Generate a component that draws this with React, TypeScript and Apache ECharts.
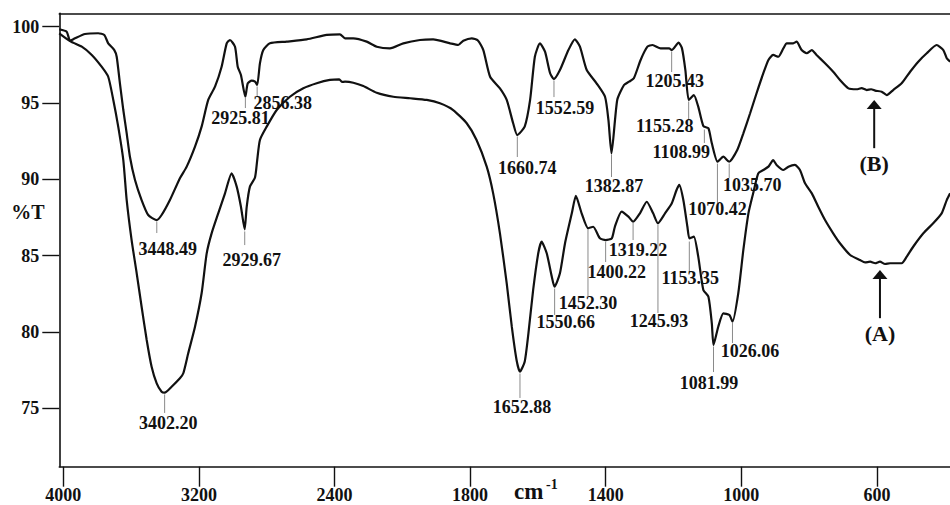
import React, { useEffect, useRef } from "react";
import * as echarts from "echarts";

// ---- axis ticks ----
const xTickWavenumbers = [4000, 3200, 2400, 1800, 1400, 1000, 600];
const yTickValues = [75, 80, 85, 90, 95, 100];

// ---- spectrum (B), upper curve ----
const bWavenumbers = [
  4024, 3980, 3960, 3931, 3872, 3794, 3758, 3735, 3699, 3685, 3666, 3646, 3626, 3607, 3577, 3538, 3499, 3450, 3420, 3371,
  3312, 3272, 3223, 3184, 3145, 3105, 3066, 3036, 3017, 2987, 2971, 2952, 2926, 2912, 2889, 2869, 2856, 2840, 2820, 2781,
  2682, 2564, 2446, 2368, 2338, 2289, 2210, 2151, 2073, 1997, 1948, 1909, 1859, 1835, 1820, 1795, 1777, 1761, 1741, 1712,
  1692, 1673, 1661, 1639, 1623, 1609, 1594, 1579, 1564, 1553, 1535, 1510, 1491, 1476, 1456, 1427, 1402, 1392, 1383, 1366,
  1346, 1331, 1317, 1297, 1277, 1262, 1238, 1213, 1205, 1185, 1175, 1165, 1155, 1140, 1127, 1112, 1097, 1087, 1070, 1053,
  1036, 1012, 994, 974, 955, 935, 920, 906, 891, 876, 866, 847, 837, 822, 807, 792, 778, 753, 729, 709,
  684, 660, 645, 630, 617, 605, 586, 571, 552, 527, 502, 478, 453, 424, 404, 394, 384,
];
const bTransmittance = [
  99.83, 99.67, 99.08, 99.24, 99.52, 99.57, 99.46, 98.91, 98.47, 98.03, 96.29, 94.54, 93.01, 91.48, 89.95, 88.64, 87.66, 87.33, 87.66, 88.64,
  90.07, 90.83, 92.14, 93.45, 95.2, 96.07, 97.38, 98.91, 99.13, 98.69, 97.38, 96.83, 95.41, 96.29, 96.46, 96.4, 96.18, 97.6, 98.47, 98.91,
  99.02, 99.17, 99.46, 99.5, 99.24, 99.24, 99.02, 98.69, 98.58, 98.91, 99.13, 99.17, 98.91, 98.8, 99.08, 99.24, 99.1, 98.47, 96.72, 95.96,
  95.2, 93.67, 92.9, 93.45, 95.2, 98.03, 98.91, 98.36, 96.95, 96.57, 97.16, 98.47, 99.17, 98.69, 97.16, 96.29, 95.41, 93.89, 91.7, 95.2,
  96.18, 96.4, 96.62, 97.82, 98.69, 98.8, 98.58, 98.58, 98.47, 98.95, 98.58, 97.16, 95.2, 95.52, 94.76, 93.49, 93.34, 92.36, 91.15, 91.48,
  91.15, 91.92, 93.01, 94.33, 95.64, 96.95, 97.82, 98.15, 98.03, 98.58, 98.91, 98.91, 99.02, 98.47, 98.26, 98.47, 98.15, 97.6, 97.05, 96.51,
  95.96, 95.9, 95.97, 95.85, 95.9, 95.81, 95.74, 95.52, 95.85, 96.29, 97.05, 97.71, 98.26, 98.8, 98.47, 97.93, 97.71,
];

// ---- spectrum (A), lower curve ----
const aWavenumbers = [
  4024, 3955, 3891, 3832, 3774, 3735, 3705, 3676, 3646, 3626, 3597, 3567, 3538, 3508, 3479, 3449, 3420, 3402, 3361, 3312,
  3292, 3263, 3223, 3184, 3154, 3125, 3086, 3046, 3007, 2977, 2952, 2930, 2918, 2899, 2869, 2856, 2840, 2800, 2741, 2663,
  2584, 2505, 2427, 2372, 2356, 2338, 2289, 2230, 2151, 2053, 1977, 1928, 1889, 1850, 1810, 1781, 1751, 1732, 1712, 1692,
  1677, 1663, 1653, 1639, 1628, 1614, 1599, 1589, 1574, 1559, 1551, 1535, 1520, 1500, 1488, 1471, 1452, 1437, 1417, 1400,
  1382, 1373, 1353, 1333, 1319, 1299, 1279, 1260, 1246, 1225, 1205, 1191, 1183, 1171, 1159, 1153, 1140, 1127, 1112, 1097,
  1087, 1082, 1068, 1053, 1035, 1026, 1009, 994, 979, 965, 950, 935, 920, 906, 896, 876, 861, 842, 827, 812,
  792, 773, 753, 729, 709, 679, 650, 635, 620, 605, 591, 576, 561, 527, 512, 493, 463, 434, 409, 394, 384,
];
const aTransmittance = [
  99.57, 99.02, 98.69, 98.15, 97.38, 96.72, 95.2, 93.45, 91.26, 88.64, 86.02, 83.84, 81.65, 79.47, 77.72, 76.63, 76.08, 76.02, 76.41, 76.96,
  77.29, 78.6, 80.34, 82.53, 85.15, 86.46, 87.77, 89.08, 90.39, 89.52, 88.2, 86.72, 88.2, 89.52, 90.12, 91.26, 92.58, 93.45, 94.54, 95.41,
  95.96, 96.29, 96.51, 96.55, 96.38, 96.4, 96.33, 96.11, 95.67, 95.41, 95.31, 95.2, 94.98, 94.54, 93.67, 92.58, 90.83, 89.08, 86.46, 83.18,
  80.34, 78.16, 77.39, 78.05, 79.91, 82.75, 85.15, 85.91, 85.15, 83.62, 82.96, 83.84, 85.81, 87.77, 88.91, 87.77, 86.79, 86.89, 86.13, 86.02,
  86.13, 86.89, 87.88, 87.55, 87.22, 87.77, 88.53, 87.77, 87.12, 87.77, 88.43, 89.3, 89.63, 88.64, 86.89, 86.13, 86.24, 84.93, 82.75, 82.31,
  80.56, 79.14, 80.34, 81.22, 81.11, 80.67, 82.53, 85.37, 87.77, 89.08, 90.39, 90.61, 90.83, 91.26, 90.94, 90.61, 90.83, 90.94, 90.61, 89.74,
  89.08, 88.2, 87.33, 86.46, 85.81, 85.04, 84.71, 84.55, 84.6, 84.5, 84.6, 84.45, 84.5, 84.5, 84.93, 85.58, 86.46, 87.12, 87.77, 88.64, 89.08,
];

// ---- labelled peaks: wavenumber, %T at the peak, %T where the marker line ends ----
const peaksB = [3448.49, 2925.81, 2856.38, 1660.74, 1552.59, 1382.87, 1205.43, 1155.28, 1108.99, 1070.42, 1035.7];
const peaksBTop = [87.33, 95.49, 96.18, 92.9, 96.57, 91.72, 98.47, 95.2, 93.36, 91.13, 91.13];
const peaksBEnd = [86.48, 94.67, 95.39, 91.46, 95.39, 90.15, 97.03, 93.89, 92.38, 88.45, 90.09];
const peaksA = [3402.2, 2929.67, 1652.88, 1550.66, 1452.3, 1400.22, 1319.22, 1245.93, 1153.35, 1081.99, 1026.06];
const peaksATop = [76.0, 86.68, 77.37, 82.94, 86.81, 86.02, 87.27, 87.14, 86.02, 79.14, 80.71];
const peaksAEnd = [74.69, 85.69, 75.67, 81.11, 82.35, 84.58, 86.02, 81.24, 83.93, 77.37, 79.27];

// ---- arrows marking the two spectra ----
const arrowLabels = ["(B)", "(A)"];
const arrowWavenumbers = [608, 591];
const arrowTip = [95.19, 84.05];
const arrowTail = [92.04, 80.9];

// layout: label offsets (px) from the end of each marker line
const peaksBLabelOffset = [[11, 16], [-5, 10], [25.5, 6], [10, 11], [11, 11], [2.5, 9], [3, 9], [-24, 6], [-23, 9], [0, 6], [23, 7]];
const peaksALabelOffset = [[3.5, 10], [7, 15], [2, 9], [11, 7], [0, 7], [11, 10], [5, 10], [1, 8], [1, 6], [-4.5, 11], [17.5, 8]];

// piecewise wavenumber scale (scale doubles below 2000 cm-1)
const toT = (w: number) => (w >= 2000 ? (4000 - w) / 800 : 2.5 + (2000 - w) / 400);
const fromT = (t: number) => (t <= 2.5 ? 4000 - 800 * t : 2000 - 400 * (t - 2.5));

const FONT = '"Liberation Serif", "Times New Roman", serif';
const INK = "#111";

export default function App() {
  const ref = useRef<HTMLDivElement>(null);
  useEffect(() => {
    if (!ref.current) return;
    const chart = echarts.init(ref.current, undefined, { renderer: "svg" });

    const lineB = bWavenumbers.map((w, i) => [toT(w), bTransmittance[i]]);
    const lineA = aWavenumbers.map((w, i) => [toT(w), aTransmittance[i]]);
    const peakData = [
      ...peaksB.map((w, i) => [toT(w), peaksBTop[i], peaksBEnd[i]]),
      ...peaksA.map((w, i) => [toT(w), peaksATop[i], peaksAEnd[i]]),
    ];
    const peakText = [...peaksB, ...peaksA].map((w) => w.toFixed(2));
    const peakOffsets = [...peaksBLabelOffset, ...peaksALabelOffset];
    const arrowData = arrowWavenumbers.map((w, i) => [toT(w), arrowTip[i], arrowTail[i]]);

    const tMin = -0.0295;
    const tMax = 6.539;
    const yMin = 71.167;
    const yMax = 100.878;

    chart.setOption({
      animation: false,
      grid: { left: 59.3, top: 13.3, right: 0, bottom: 38.3, show: false },
      xAxis: [
        {
          type: "value",
          min: tMin,
          max: tMax,
          position: "bottom",
          axisLine: { show: true, onZero: false, lineStyle: { color: INK, width: 1.6 } },
          axisTick: {
            show: true,
            customValues: xTickWavenumbers.map(toT),
            length: 20,
            lineStyle: { color: INK, width: 1.4 },
          },
          axisLabel: {
            show: true,
            customValues: xTickWavenumbers.map(toT),
            formatter: (v: number) => String(Math.round(fromT(v))),
            margin: 19,
            fontFamily: FONT,
            fontWeight: "bold",
            fontSize: 18,
            color: INK,
          },
          splitLine: { show: false },
        },
        {
          type: "value",
          min: tMin,
          max: tMax,
          position: "top",
          axisLine: { show: true, onZero: false, lineStyle: { color: INK, width: 1.6 } },
          axisTick: { show: false },
          axisLabel: { show: false },
          splitLine: { show: false },
        },
      ],
      yAxis: {
        type: "value",
        min: yMin,
        max: yMax,
        axisLine: { show: true, onZero: false, lineStyle: { color: INK, width: 1.6 } },
        axisTick: {
          show: true,
          customValues: yTickValues,
          length: 17,
          lineStyle: { color: INK, width: 1.4 },
        },
        axisLabel: {
          show: true,
          customValues: yTickValues,
          margin: 20,
          fontFamily: FONT,
          fontWeight: "bold",
          fontSize: 18,
          color: INK,
        },
        splitLine: { show: false },
      },
      series: [
        {
          name: "B",
          type: "line",
          data: lineB,
          showSymbol: false,
          smooth: 0.2,
          lineStyle: { color: INK, width: 2.2 },
          z: 3,
        },
        {
          name: "A",
          type: "line",
          data: lineA,
          showSymbol: false,
          smooth: 0.2,
          lineStyle: { color: INK, width: 2.2 },
          z: 3,
        },
        {
          name: "peaks",
          type: "custom",
          data: peakData,
          encode: { x: 0, y: [1, 2] },
          z: 4,
          renderItem: (params: any, api: any) => {
            const i = params.dataIndex;
            const top = api.coord([api.value(0), api.value(1)]);
            const end = api.coord([api.value(0), api.value(2)]);
            const [dx, dy] = peakOffsets[i];
            return {
              type: "group",
              children: [
                {
                  type: "line",
                  shape: { x1: top[0], y1: top[1] + 1.5, x2: end[0], y2: end[1] },
                  style: { stroke: "#8a8a8a", lineWidth: 1 },
                },
                {
                  type: "text",
                  x: end[0] + dx,
                  y: end[1] + dy,
                  style: {
                    text: peakText[i],
                    fill: INK,
                    font: `bold 18px ${FONT}`,
                    align: "center",
                    verticalAlign: "middle",
                  },
                },
              ],
            };
          },
        },
        {
          name: "arrows",
          type: "custom",
          data: arrowData,
          encode: { x: 0, y: [1, 2] },
          z: 4,
          renderItem: (params: any, api: any) => {
            const i = params.dataIndex;
            const tip = api.coord([api.value(0), api.value(1)]);
            const tail = api.coord([api.value(0), api.value(2)]);
            return {
              type: "group",
              children: [
                {
                  type: "polygon",
                  shape: { points: [[tip[0], tip[1]], [tip[0] - 7.5, tip[1] + 9], [tip[0] + 7.5, tip[1] + 9]] },
                  style: { fill: INK },
                },
                {
                  type: "line",
                  shape: { x1: tip[0], y1: tip[1] + 8, x2: tail[0], y2: tail[1] },
                  style: { stroke: INK, lineWidth: 2 },
                },
                {
                  type: "text",
                  x: tail[0],
                  y: tail[1] + 15,
                  style: {
                    text: arrowLabels[i],
                    fill: INK,
                    font: `bold 22px ${FONT}`,
                    align: "center",
                    verticalAlign: "middle",
                  },
                },
              ],
            };
          },
        },
      ],
      graphic: [
        {
          type: "text",
          x: 28,
          y: 212,
          style: { text: "%T", fill: INK, font: `bold 20px ${FONT}`, align: "center", verticalAlign: "middle" },
        },
        {
          type: "text",
          x: 514,
          y: 491,
          style: { text: "cm", fill: INK, font: `bold 23px ${FONT}`, align: "left", verticalAlign: "middle" },
        },
        {
          type: "text",
          x: 546,
          y: 484,
          style: { text: "-1", fill: INK, font: `bold 14px ${FONT}`, align: "left", verticalAlign: "middle" },
        },
      ],
    });
    return () => chart.dispose();
  }, []);
  return (
    <div
      ref={ref}
      style={{ position: "fixed", left: 0, top: 0, width: 950, height: 505, background: "#fff" }}
    />
  );
}
